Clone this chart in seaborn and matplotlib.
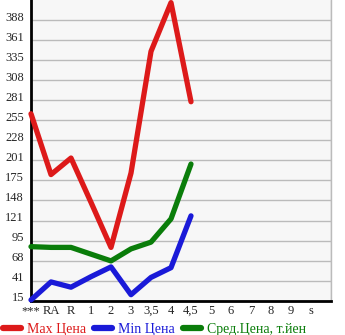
import numpy as np
import pandas as pd
import matplotlib
matplotlib.use("Agg")
import matplotlib.pyplot as plt
import matplotlib.transforms as mtransforms
from matplotlib.lines import Line2D
import seaborn as sns

categories = ["***", "RA", "R", "1", "2", "3", "3,5", "4", "4,5", "5", "6", "7", "8", "9", "s"]
max_price = [264, 183, 205, 146, 86, 185, 347, 412, 280]
min_price = [16, 40, 33, 47, 60, 23, 46, 59, 128]
avg_price = [87, 86, 86, 77, 68, 84, 93, 124, 197]
ytick_values = [15, 41.7, 68.4, 95.1, 121.8, 148.5, 175.2, 201.9, 228.6, 255.3, 282, 308.7, 335.4, 362.1, 388.8]
ytick_labels = ["15", "41", "68", "95", "121", "148", "175", "201", "228", "255", "281", "308", "335", "361", "388"]
legend_labels = ["Max Цена", "Min Цена", "Сред.Цена, т.йен"]

colors = ["#dd1a1a", "#1a1ad8", "#0a7d0a"]

sns.set_style("white")
plt.rcParams["font.family"] = ["Liberation Serif", "DejaVu Serif"]

fig = plt.figure(figsize=(3.45, 3.35), dpi=100)
ax = fig.add_axes([31 / 345, 1 - 300.7 / 335, 300 / 345, 300.7 / 335])
ax.set_facecolor("#f7f7f7")

n = len(max_price)
df = pd.DataFrame({
    "pos": list(range(n)) * 3,
    "value": max_price + min_price + avg_price,
    "series": [legend_labels[0]] * n + [legend_labels[1]] * n + [legend_labels[2]] * n,
})

sns.lineplot(data=df, x="pos", y="value", hue="series", palette=colors,
             linewidth=3.8, ax=ax, legend=False, sort=False, zorder=3)
for l in ax.lines:
    l.set_solid_capstyle("round")
    l.set_solid_joinstyle("round")
    l.set_clip_on(False)

ax.set_xlim(0, 15)
ax.set_ylim(15, 415.5)
ax.set_xticks(range(len(categories)))
ax.set_xticklabels(categories, fontsize=9)
ax.set_xticks(np.arange(0, 16), minor=True)
ax.set_yticks(ytick_values)
ax.set_yticklabels(ytick_labels, fontsize=9)
ax.set_xlabel("")
ax.set_ylabel("")

ax.grid(True, which="major", axis="y", color="#bbbbbb", linewidth=1)
ax.grid(True, which="minor", axis="x", color="#bbbbbb", linewidth=1)
ax.set_axisbelow(True)

ax.tick_params(axis="y", which="major", direction="out", length=4, width=1, color="black", pad=1)
ax.tick_params(axis="x", which="major", length=0, pad=3)
ax.tick_params(axis="x", which="minor", direction="out", length=2, width=1, color="black")

offset = mtransforms.ScaledTranslation(0, 4 / 100, fig.dpi_scale_trans)
for lab in ax.get_yticklabels():
    lab.set_transform(lab.get_transform() + offset)

ax.spines["top"].set_visible(False)
ax.spines["right"].set_color("#bbbbbb")
ax.spines["right"].set_linewidth(1)
ax.spines["left"].set_color("black")
ax.spines["left"].set_linewidth(2)
ax.spines["bottom"].set_color("black")
ax.spines["bottom"].set_linewidth(2)

handles = [Line2D([0], [0], color=c, linewidth=4.5, solid_capstyle="round") for c in colors]
leg = fig.legend(handles, legend_labels, loc="lower left", bbox_to_anchor=(0.0, -0.01),
                 ncol=3, frameon=False, fontsize=10, handlelength=1.3, handletextpad=0.45,
                 columnspacing=0.55, borderaxespad=0, borderpad=0.2)
for t, c in zip(leg.get_texts(), colors):
    t.set_color(c)

fig.savefig("out.png", dpi=100)
